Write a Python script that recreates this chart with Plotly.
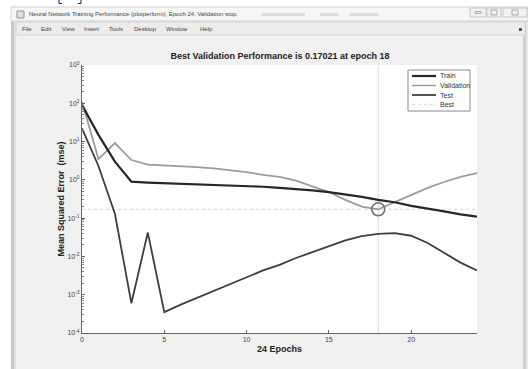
import plotly.graph_objects as go

# ---------------- data ----------------
epochs = list(range(25))
train = [90, 15, 3.0, 0.9, 0.85, 0.82, 0.80, 0.78, 0.76, 0.73, 0.70, 0.66, 0.62,
         0.58, 0.53, 0.48, 0.42, 0.36, 0.30, 0.26, 0.21, 0.18, 0.15, 0.125, 0.11]
validation = [110, 3.5, 9.1, 3.3, 2.5, 2.4, 2.3, 2.15, 2.0, 1.8, 1.6, 1.35, 1.2,
              0.95, 0.68, 0.48, 0.30, 0.20, 0.17021, 0.26, 0.40, 0.62, 0.88, 1.2, 1.5]
test = [22, 2.3, 0.13, 6.0e-4, 0.042, 3.5e-4, 5.5e-4, 8.3e-4, 1.26e-3, 1.95e-3, 2.95e-3,
        4.3e-3, 6.0e-3, 9.1e-3, 0.0129, 0.0186, 0.0263, 0.0339, 0.0389, 0.0407, 0.0347,
        0.0224, 0.0126, 0.0069, 0.0043]
best_epoch = 18
best_perf = 0.17021
series_names = ["Train", "Validation", "Test", "Best"]
x_ticks = [0, 5, 10, 15, 20]
y_tick_vals = [1e-4, 1e-3, 1e-2, 1e-1, 1e0, 1e1, 1e2, 1e3]
y_tick_text = ["10<sup>-4</sup>", "10<sup>-3</sup>", "10<sup>-2</sup>", "10<sup>-1</sup>",
               "10<sup>0</sup>", "10<sup>1</sup>", "10<sup>2</sup>", "10<sup>3</sup>"]
chart_title = "Best Validation Performance is 0.17021 at epoch 18"
x_title = "24 Epochs"
y_title = "Mean Squared Error  (mse)"
window_title = "Neural Network Training Performance (plotperform), Epoch 24, Validation stop."
menu_items = ["File", "Edit", "View", "Insert", "Tools", "Desktop", "Window", "Help"]

# ---------------- layout helpers ----------------
W, H = 528, 369
L, R, T, B = 82, 477, 65, 333


def X(px):
    return (px - L) / (R - L)


def Y(py):
    return (B - py) / (B - T)


FONT = "Liberation Sans, Arial, sans-serif"
c_train, c_val, c_test, c_best = "#262626", "#9c9c9c", "#3e3e3e", "#d2d2d2"

fig = go.Figure()
fig.add_trace(go.Scatter(x=[best_epoch, best_epoch], y=[1e-4, 1e3], mode="lines",
                         line=dict(color="#d8d8d8", width=1), hoverinfo="skip"))
fig.add_trace(go.Scatter(x=[0, 24], y=[best_perf, best_perf], mode="lines",
                         line=dict(color=c_best, width=1, dash="dot"), hoverinfo="skip"))
fig.add_trace(go.Scatter(x=epochs, y=validation, mode="lines", name=series_names[1],
                         line=dict(color=c_val, width=1.8)))
fig.add_trace(go.Scatter(x=epochs, y=test, mode="lines", name=series_names[2],
                         line=dict(color=c_test, width=1.8)))
fig.add_trace(go.Scatter(x=epochs, y=train, mode="lines", name=series_names[0],
                         line=dict(color=c_train, width=2.2)))
fig.add_trace(go.Scatter(x=[best_epoch], y=[best_perf], mode="markers",
                         marker=dict(symbol="circle-open", size=13, color="#6e6e6e",
                                     line=dict(width=1.5, color="#6e6e6e")),
                         hoverinfo="skip"))

shapes = []
# white outside of the window
shapes.append(dict(type="rect", xref="paper", yref="paper", x0=X(0), x1=X(11), y0=Y(H), y1=Y(0),
                   fillcolor="white", line=dict(width=0), layer="below"))
shapes.append(dict(type="rect", xref="paper", yref="paper", x0=X(0), x1=X(W), y0=Y(7), y1=Y(0),
                   fillcolor="white", line=dict(width=0), layer="below"))
# citation bracket bottoms
for bx, d in [(59, 1), (81, -1)]:
    shapes.append(dict(type="line", xref="paper", yref="paper", x0=X(bx), x1=X(bx), y0=Y(3.5), y1=Y(0),
                       line=dict(color="#222", width=1)))
    shapes.append(dict(type="line", xref="paper", yref="paper", x0=X(bx), x1=X(bx + 3 * d), y0=Y(3.5), y1=Y(3.5),
                       line=dict(color="#222", width=1)))
# window left border
shapes.append(dict(type="rect", xref="paper", yref="paper", x0=X(11), x1=X(14), y0=Y(H), y1=Y(7),
                   fillcolor="#c6c6c6", line=dict(width=0), layer="below"))
shapes.append(dict(type="rect", xref="paper", yref="paper", x0=X(14), x1=X(16), y0=Y(H), y1=Y(7),
                   fillcolor="#e2e2e2", line=dict(width=0), layer="below"))
# right border
shapes.append(dict(type="rect", xref="paper", yref="paper", x0=X(523), x1=X(526), y0=Y(H), y1=Y(20),
                   fillcolor="#d0d0d0", line=dict(width=0), layer="below"))
shapes.append(dict(type="rect", xref="paper", yref="paper", x0=X(526), x1=X(W), y0=Y(H), y1=Y(20),
                   fillcolor="#e6e6e6", line=dict(width=0), layer="below"))
# title bar
shapes.append(dict(type="rect", xref="paper", yref="paper", x0=X(11), x1=X(W), y0=Y(21), y1=Y(7),
                   fillcolor="#f6f6f6", line=dict(color="#cfcfcf", width=1), layer="below"))
# window buttons
for bx0, bx1 in [(470, 486), (487, 501), (503, 527)]:
    shapes.append(dict(type="rect", xref="paper", yref="paper", x0=X(bx0), x1=X(bx1), y0=Y(17), y1=Y(8),
                       fillcolor="#f2f2f2", line=dict(color="#c4c4c4", width=1), layer="below"))
shapes.append(dict(type="rect", xref="paper", yref="paper", x0=X(475), x1=X(481), y0=Y(13.5), y1=Y(11.5),
                   fillcolor="rgba(0,0,0,0)", line=dict(color="#a8a8a8", width=1), layer="below"))
shapes.append(dict(type="rect", xref="paper", yref="paper", x0=X(491), x1=X(497), y0=Y(15), y1=Y(10),
                   fillcolor="rgba(0,0,0,0)", line=dict(color="#a8a8a8", width=1), layer="below"))
shapes.append(dict(type="rect", xref="paper", yref="paper", x0=X(512), x1=X(518), y0=Y(15), y1=Y(10),
                   fillcolor="rgba(0,0,0,0)", line=dict(color="#a8a8a8", width=1), layer="below"))
# blurred title-bar text blobs
for bx0, bx1 in [(262, 305), (320, 338), (350, 378)]:
    shapes.append(dict(type="rect", xref="paper", yref="paper", x0=X(bx0), x1=X(bx1), y0=Y(16), y1=Y(13),
                       fillcolor="#dcdcdc", line=dict(width=0), layer="below"))
# window icon
shapes.append(dict(type="rect", xref="paper", yref="paper", x0=X(17), x1=X(24), y0=Y(18), y1=Y(11),
                   fillcolor="#e0e0e0", line=dict(color="#909090", width=1), layer="below"))
# menu bar
shapes.append(dict(type="rect", xref="paper", yref="paper", x0=X(16), x1=X(525), y0=Y(35), y1=Y(22),
                   fillcolor="#ececec", line=dict(color="#d2d2d2", width=1), layer="below"))
shapes.append(dict(type="rect", xref="paper", yref="paper", x0=X(519), x1=X(522), y0=Y(31), y1=Y(28),
                   fillcolor="#555", line=dict(width=0), layer="below"))

# legend box
LX0, LX1, LY0, LY1 = 408, 470, 70, 111
shapes.append(dict(type="rect", xref="paper", yref="paper", x0=X(LX0), x1=X(LX1), y0=Y(LY1), y1=Y(LY0),
                   fillcolor="white", line=dict(color="#8a8a8a", width=1)))
legend_styles = [(c_train, 2.2, "solid"), (c_val, 1.5, "solid"), (c_test, 1.8, "solid"), (c_best, 1, "dot")]
leg_y = [76, 85.5, 95, 104.3]
annotations = []
for name, (col, wd, dash), ly in zip(series_names, legend_styles, leg_y):
    shapes.append(dict(type="line", xref="paper", yref="paper", x0=X(412), x1=X(436), y0=Y(ly), y1=Y(ly),
                       line=dict(color=col, width=wd, dash=dash)))
    annotations.append(dict(xref="paper", yref="paper", x=X(437.5), y=Y(ly), text=name, showarrow=False,
                            xanchor="left", yanchor="middle", font=dict(family="Arial", size=7, color="#333")))

annotations.append(dict(xref="paper", yref="paper", x=X(27), y=Y(14.5), text=window_title,
                        showarrow=False, xanchor="left", yanchor="middle",
                        font=dict(family=FONT, size=6, color="#444")))
menu_x = [20, 39, 60, 82, 107, 132, 164, 198]
for mx, item in zip(menu_x, menu_items):
    annotations.append(dict(xref="paper", yref="paper", x=X(mx), y=Y(28.5), text=item,
                            showarrow=False, xanchor="left", yanchor="middle",
                            font=dict(family=FONT, size=6, color="#444")))

minor_vals = [m * 10.0 ** e for e in range(-4, 3) for m in range(2, 10)]

fig.update_layout(
    width=W, height=H,
    margin=dict(l=L, r=W - R, t=T, b=H - B, pad=0),
    paper_bgcolor="#f0f0f0", plot_bgcolor="white",
    showlegend=False,
    shapes=shapes, annotations=annotations,
    font=dict(family=FONT, size=7, color="#444"),
    title=dict(text="<b>" + chart_title + "</b>", x=280 / W, xanchor="center",
               y=1 - 56 / H, yanchor="middle", font=dict(family=FONT, size=9, color="#222")),
    xaxis=dict(range=[0, 24], tickvals=x_ticks, ticks="inside", ticklen=3, tickcolor="#666",
               showline=True, linecolor="#666", linewidth=1, showgrid=False, zeroline=False,
               tickfont=dict(family=FONT, size=7, color="#444"),
               title=dict(text="<b>" + x_title + "</b>", standoff=3,
                          font=dict(family=FONT, size=9, color="#222"))),
    yaxis=dict(type="log", range=[-4, 3], tickvals=y_tick_vals, ticktext=y_tick_text,
               ticks="inside", ticklen=3, tickcolor="#666",
               minor=dict(ticks="inside", ticklen=1.5, tickcolor="#888", tickvals=minor_vals, showgrid=False),
               showline=True, linecolor="#666", linewidth=1, showgrid=False, zeroline=False,
               tickfont=dict(family=FONT, size=7, color="#444"),
               title=dict(text="<b>" + y_title + "</b>", standoff=1,
                          font=dict(family=FONT, size=9, color="#222"))),
)

fig.write_html(
    "out.html",
    config={"displayModeBar": False},
    post_script="document.documentElement.style.margin='0';document.body.style.margin='0';"
                "document.body.style.overflow='hidden';",
)
